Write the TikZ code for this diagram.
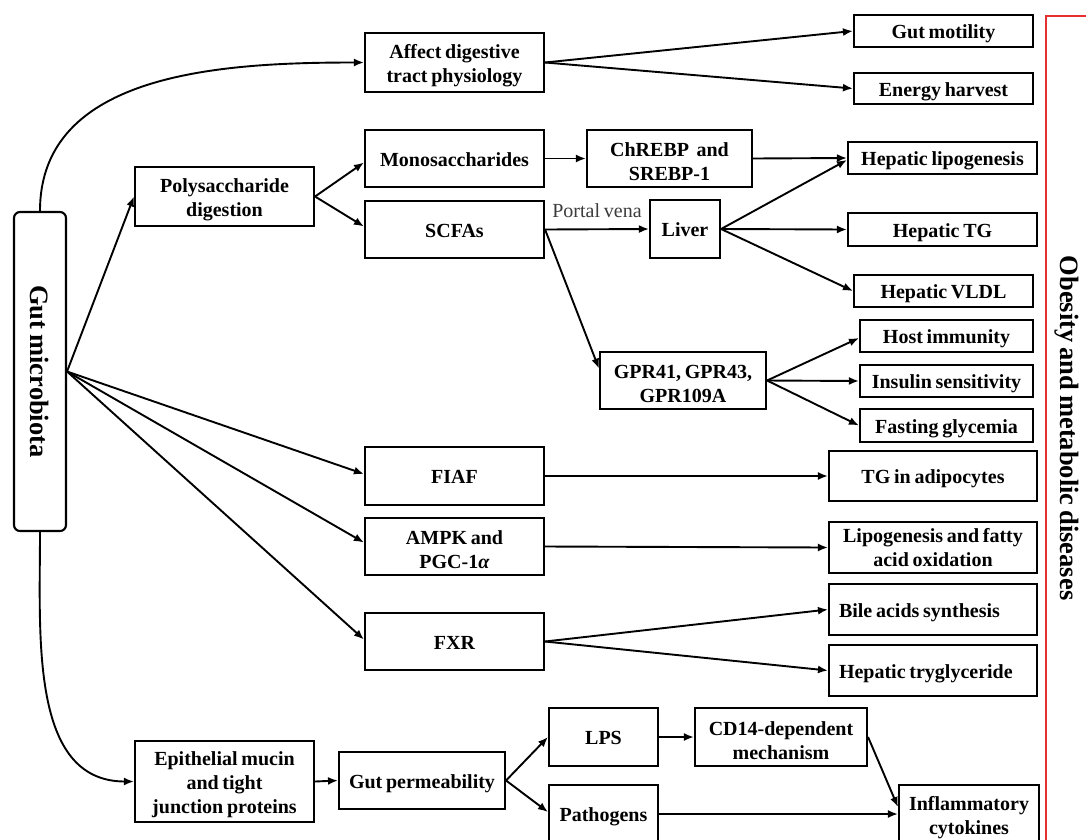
\documentclass[tikz,border=0pt]{standalone}
\usepackage{fontspec}
\setmainfont{Liberation Serif}[WordSpace=0.75]
\usepackage{graphicx}
\usetikzlibrary{arrows.meta}
\definecolor{bracketred}{RGB}{228,48,48}
\definecolor{labelgray}{RGB}{60,60,60}
\newcommand{\firstline}{\rule{0pt}{20.5pt}}
\tikzset{
  box/.style={draw, line width=2.1pt, rectangle, inner sep=0pt, align=center,
    font=\fontsize{20}{24}\selectfont\bfseries},
  sbox/.style={draw, line width=2.1pt, rectangle, inner sep=0pt,
    text height=15pt, text depth=0pt,
    font=\fontsize{20}{24}\selectfont\bfseries},
  arr/.style={line width=1.9pt, -{Latex[length=10pt,width=8pt]}},
  bigtext/.style={font=\fontsize{26.5}{30}\selectfont\bfseries},
}
\begin{document}
\begin{tikzpicture}[x=1pt,y=-1pt]
\clip (0,0) rectangle (1086,839);
\fill[white] (0,0) rectangle (1086,839);

% main source
\node[box, rounded corners=6pt, minimum width=52pt, minimum height=319pt] (gm) at (40,371.5)
  {\rotatebox{-90}{\fontsize{26.5}{30}\selectfont Gut microbiota}};

% column 2
\node[box, minimum width=179pt, minimum height=59pt] (poly) at (224.5,196.5) {\firstline Polysaccharide\\digestion};
\node[box, minimum width=179pt, minimum height=81pt] (epi) at (224.5,781.5) {\firstline Epithelial mucin\\and tight\\junction proteins};

% column 3
\node[box, minimum width=179pt, minimum height=59pt] (affect) at (454.5,62.5) {\firstline Affect digestive\\tract physiology};
\node[sbox, minimum width=179pt, minimum height=57pt] (mono) at (454.5,158.5) {Monosaccharides};
\node[sbox, minimum width=179pt, minimum height=57pt] (scfa) at (454.5,229.5) {SCFAs};
\node[sbox, minimum width=179pt, minimum height=58pt] (fiaf) at (454.5,476) {FIAF};
\node[box, minimum width=179pt, minimum height=57pt] (ampk) at (454.5,546.5) {\firstline AMPK and\\PGC-1\textit{α}};
\node[sbox, minimum width=179pt, minimum height=57pt] (fxr) at (454.5,641.5) {FXR};
\node[sbox, minimum width=166pt, minimum height=57pt] (gutperm) at (422,780.5) {Gut permeability};

% column 4
\node[box, minimum width=165pt, minimum height=57pt] (chrebp) at (669.5,158.5) {\firstline ChREBP\ \ and\\SREBP-1};
\node[sbox, minimum width=70pt, minimum height=58pt] (liver) at (685,229) {Liver};
\node[box, minimum width=166pt, minimum height=57pt] (gpr) at (683,380.5) {\firstline GPR41, GPR43,\\GPR109A};
\node[sbox, minimum width=109pt, minimum height=58pt] (lps) at (603.5,737) {LPS};
\node[sbox, minimum width=109pt, minimum height=58pt] (path) at (603.5,814) {Pathogens};
\node[box, minimum width=172pt, minimum height=58pt] (cd14) at (781,737) {\firstline CD14-dependent\\mechanism};

% outcomes
\node[sbox, minimum width=179pt, minimum height=32pt] (gutmot) at (943.5,31) {Gut motility};
\node[sbox, minimum width=179pt, minimum height=31pt] (energy) at (943.5,88.5) {Energy harvest};
\node[sbox, minimum width=189pt, minimum height=32pt] (hlipo) at (942.5,158) {Hepatic lipogenesis};
\node[sbox, minimum width=189pt, minimum height=33pt] (htg) at (942.5,229.5) {Hepatic TG};
\node[sbox, minimum width=179pt, minimum height=32pt] (hvldl) at (943.5,291) {Hepatic VLDL};
\node[sbox, minimum width=173pt, minimum height=32pt] (host) at (946.5,336) {Host immunity};
\node[sbox, minimum width=173pt, minimum height=32pt] (insulin) at (946.5,381) {Insulin sensitivity};
\node[sbox, minimum width=173pt, minimum height=33pt] (fasting) at (946.5,425.5) {Fasting glycemia};
\node[sbox, minimum width=208pt, minimum height=50pt] (tgadipo) at (933,476) {TG in adipocytes};
\node[box, minimum width=208pt, minimum height=51pt] (lipo) at (933,547.5) {Lipogenesis and fatty\\acid oxidation};
\node[sbox, minimum width=208pt, minimum height=51pt] (bile) at (933,609.5) {\makebox[188pt][l]{Bile acids synthesis}};
\node[sbox, minimum width=208pt, minimum height=51pt] (htry) at (933,670.5) {\makebox[188pt][l]{Hepatic tryglyceride}};
\node[box, minimum width=140pt, minimum height=58pt] (infl) at (969,814) {\firstline Inflammatory\\cytokines};

% right bracket and label
\coordinate (rb1) at (1090,16);
\coordinate (rb2) at (1046,16);
\coordinate (rb3) at (1046,845);
\draw[bracketred, line width=1.6pt] (rb1) -- (rb2) -- (rb3);
\node[bigtext, rotate=-90] (obesity) at (1067,428) {Obesity and metabolic diseases};

% connectors from gut microbiota
\draw[arr] (gm.north) to[out=90, in=180] (affect.west);
\draw[arr] (gm.east) -- (poly.west);
\draw[arr] (gm.east) -- ([yshift=2pt]fiaf.west);
\draw[arr] (gm.east) -- ([yshift=4pt]ampk.west);
\draw[arr] (gm.east) -- ([yshift=2pt]fxr.west);
\draw[arr] (gm.south) to[out=-90, in=180] (epi.west);

% affect
\draw[arr] (affect.east) -- (gutmot.west);
\draw[arr] (affect.east) -- (energy.west);

% polysaccharide
\draw[arr] (poly.east) -- ([yshift=-4pt]mono.west);
\draw[arr] (poly.east) -- ([yshift=3pt]scfa.west);
\draw[arr] (mono.east) -- (chrebp.west);
\draw[arr] (chrebp.east) -- (hlipo.west);
\draw[arr] (scfa.east) -- node[above=11pt, inner sep=0pt, font=\fontsize{20}{24}\selectfont, text=labelgray] {Portal vena} (liver.west);
\draw[arr] (scfa.east) -- ([yshift=12pt]gpr.west);
\draw[arr] (liver.east) -- ([yshift=-2pt]hlipo.west);
\draw[arr] (liver.east) -- (htg.west);
\draw[arr] (liver.east) -- (hvldl.west);
\draw[arr] (gpr.east) -- ([yshift=-2pt]host.west);
\draw[arr] (gpr.east) -- (insulin.west);
\draw[arr] (gpr.east) -- (fasting.west);

% FIAF, AMPK, FXR
\draw[arr] (fiaf.east) -- (tgadipo.west);
\draw[arr] (ampk.east) -- (lipo.west);
\draw[arr] (fxr.east) -- (bile.west);
\draw[arr] (fxr.east) -- (htry.west);

% permeability
\draw[arr] (epi.east) -- (gutperm.west);
\draw[arr] (gutperm.east) -- (lps.west);
\draw[arr] (gutperm.east) -- ([yshift=2pt]path.west);
\draw[arr] (lps.east) -- (cd14.west);
\draw[arr] (cd14.east) -- ([yshift=7pt]infl.west);
\draw[arr] (path.east) -- (infl.west);
\end{tikzpicture}
\end{document}
